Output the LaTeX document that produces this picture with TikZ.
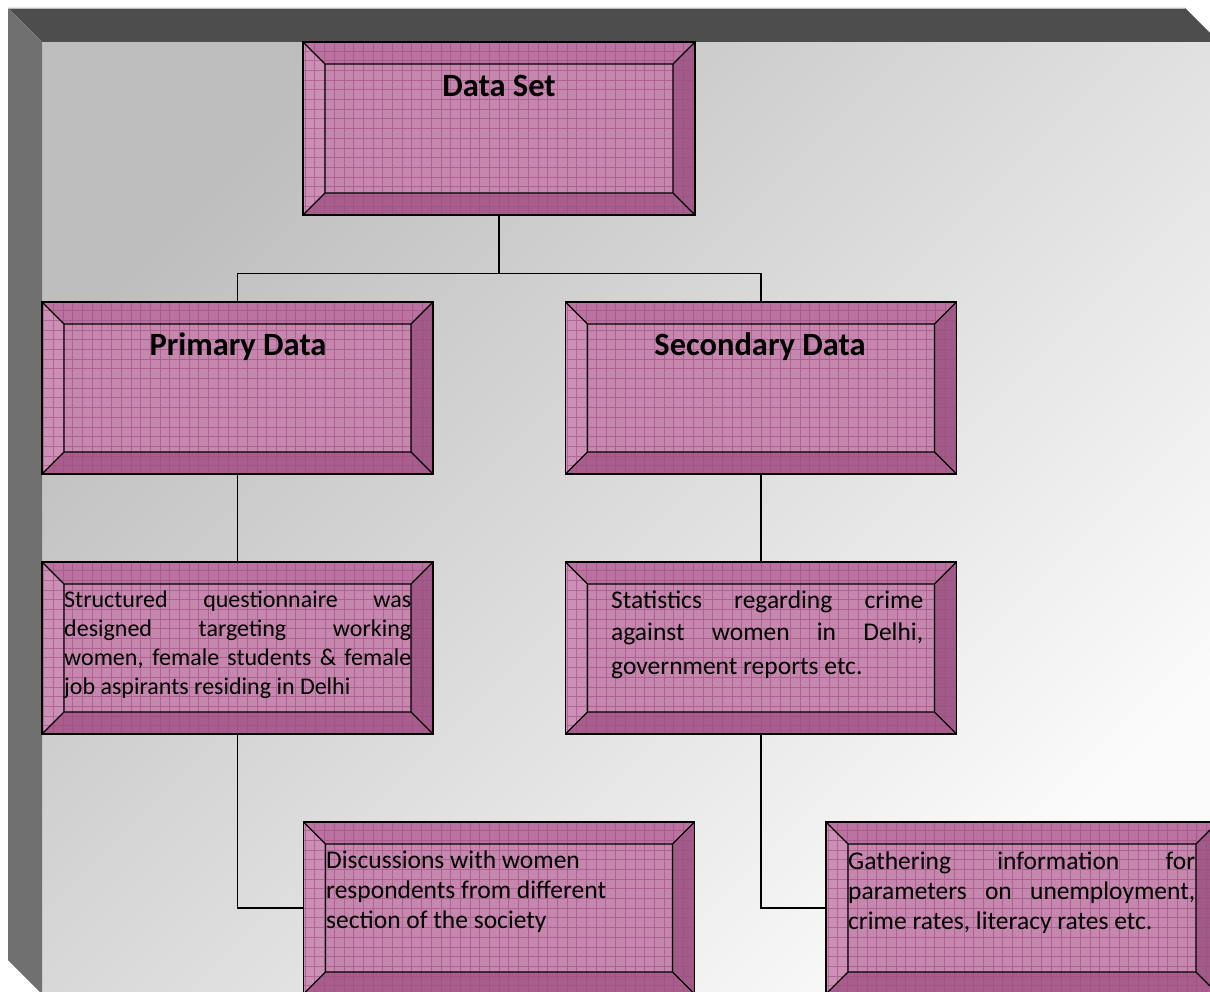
\documentclass[tikz,border=0pt]{standalone}
\usepackage{fontspec}
\setmainfont{Carlito}
\definecolor{facecol}{HTML}{C587AE}
\definecolor{topcol}{HTML}{BA73A0}
\definecolor{leftcol}{HTML}{CC90B7}
\definecolor{rightcol}{HTML}{A05B88}
\definecolor{botcol}{HTML}{A75E8C}
\definecolor{gridcol}{HTML}{A04A7E}
\definecolor{bandtop}{HTML}{4D4D4D}
\definecolor{bandleft}{HTML}{707070}
\definecolor{bgA}{HTML}{BEBEBE}
\definecolor{bgB}{HTML}{FBFBFB}
\tikzset{
  bevbox/.style={rectangle, draw=black, line width=1.3pt, fill=facecol,
    minimum width=391pt, minimum height=172pt, inner sep=0pt,
    path picture={
      \coordinate (P1) at (path picture bounding box.north west);
      \coordinate (P2) at (path picture bounding box.north east);
      \coordinate (P3) at (path picture bounding box.south east);
      \coordinate (P4) at (path picture bounding box.south west);
      \coordinate (Q1) at ([shift={(22pt,-22pt)}]P1);
      \coordinate (Q2) at ([shift={(-22pt,-22pt)}]P2);
      \coordinate (Q3) at ([shift={(-22pt,22pt)}]P3);
      \coordinate (Q4) at ([shift={(22pt,22pt)}]P4);
      \fill[topcol] (P1)--(P2)--(Q2)--(Q1)--cycle;
      \fill[rightcol] (P2)--(P3)--(Q3)--(Q2)--cycle;
      \fill[botcol] (P3)--(P4)--(Q4)--(Q3)--cycle;
      \fill[leftcol] (P4)--(P1)--(Q1)--(Q4)--cycle;
      \draw[gridcol, draw opacity=0.6, line width=0.6pt, step=9.7pt] (P4) grid (P2);
      \draw[black, line width=1.3pt] (P1)--(Q1) (P2)--(Q2) (P3)--(Q3) (P4)--(Q4) (Q1) rectangle (Q3);
    }},
  titletxt/.style={inner sep=0pt, anchor=base, font=\fontsize{32.5}{38}\selectfont\bfseries},
  bodytxt/.style={inner sep=0pt, anchor=base west, font=\fontsize{24}{29}\selectfont},
  bodytxtb/.style={inner sep=0pt, anchor=base west, font=\fontsize{25.5}{30}\selectfont},
  conn/.style={draw=black, line width=1.3pt}
}
\begin{document}
\begin{tikzpicture}[x=1pt, y=-1pt]
\useasboundingbox (0,0) rectangle (1210,992);
\clip (0,0) rectangle (1210,992);
% frame
\shade[top color=bgA, bottom color=bgB, shading angle=45] (42,42) rectangle (1219,994);
\fill[bandtop] (8,8) -- (1185,8) -- (1219,42) -- (42,42) -- cycle;
\fill[bandleft] (8,8) -- (42,42) -- (42,994) -- (8,960) -- cycle;
\draw[gray!55, line width=0.8pt] (8,8) -- (1185,8);
% boxes
\node[bevbox, minimum width=392pt, minimum height=173pt] (ds) at (499,128.5) {};
\node[bevbox] (pd) at (237.5,388) {};
\node[bevbox] (sd) at (761,388) {};
\node[bevbox] (sq) at (237.5,648) {};
\node[bevbox] (st) at (761,648) {};
\node[bevbox] (disc) at (499,908) {};
\node[bevbox, minimum width=392pt] (gath) at (1022,908) {};
% connectors
\draw[conn] (ds.south) -- ++(0,58) -| (pd.north);
\draw[conn] (ds.south) -- ++(0,58) -| (sd.north);
\draw[conn] (pd.south) -- (sq.north);
\draw[conn] (sd.south) -- (st.north);
\draw[conn] (sq.south) |- (disc.west);
\draw[conn] (st.south) |- (gath.west);
% texts
\node[titletxt] (ds-t) at (499,97) {Data Set};
\node[titletxt] (pd-t) at (238,355) {Primary Data};
\node[titletxt] (sd-t) at (760,355) {Secondary Data};
\node[bodytxt] (sq-t) at (64,607) {\parbox[t]{347pt}{%
  \makebox[347pt][s]{Structured questionnaire was}\\
  \makebox[347pt][s]{designed targeting working}\\
  \makebox[347pt][s]{women, female students \& female}\\
  job aspirants residing in Delhi}};
\node[bodytxtb] (st-t) at (611,608) {\parbox[t]{312pt}{%
  \makebox[312pt][s]{Statistics regarding crime}\\[2pt]
  \makebox[312pt][s]{against women in Delhi,}\\[4pt]
  government reports etc.}};
\node[bodytxtb] (disc-t) at (326,868) {\parbox[t]{347pt}{%
  Discussions with women\\
  respondents from different\\
  section of the society}};
\node[bodytxtb] (gath-t) at (848,869) {\parbox[t]{347pt}{%
  \makebox[347pt][s]{Gathering information for}\\
  \makebox[347pt][s]{parameters on unemployment,}\\
  crime rates, literacy rates etc.}};
\end{tikzpicture}
\end{document}
